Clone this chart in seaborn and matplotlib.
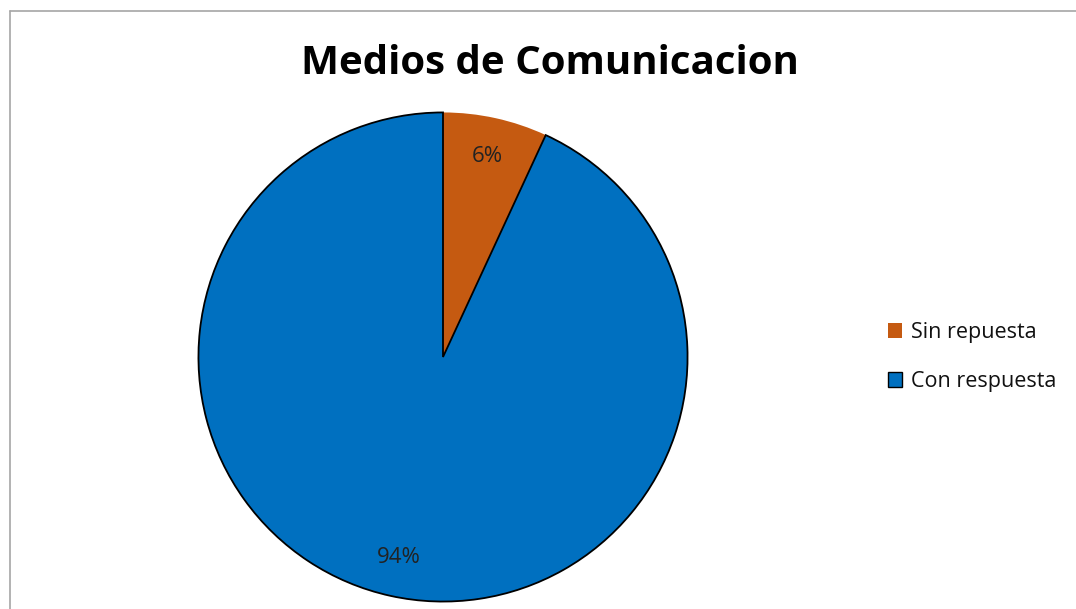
import numpy as np
import matplotlib
matplotlib.use("Agg")
import matplotlib.pyplot as plt
import matplotlib.patches as mpatches
from matplotlib.lines import Line2D
import seaborn as sns

# datos del grafico
categorias = ["Sin repuesta", "Con respuesta"]
valores = [6.9, 93.1]
etiquetas = ["6%", "94%"]
colores = ["#C55A11", "#0070C0"]

sns.set_theme(style="white")
plt.rcParams['font.family'] = ['Open Sans', 'DejaVu Sans']

fig = plt.figure(figsize=(10.76, 6.09), dpi=100)
ax = fig.add_axes([196 / 1076, 5 / 609, 494 / 1076, 494 / 609])

it = iter(etiquetas)
wedges, texts, autotexts = ax.pie(valores, colors=colores, startangle=90, counterclock=False,
                                  autopct=lambda p: next(it), pctdistance=0.84,
                                  textprops={'fontsize': 16, 'color': '#222222'})
wedges[0].set_edgecolor('none')
wedges[1].set_edgecolor('black')
wedges[1].set_linewidth(1.3)
ax.set_xlim(-1.01, 1.01)
ax.set_ylim(-1.01, 1.01)
ax.set_aspect('equal')
ax.axis('off')

# titulo
fig.text(550 / 1076, 1 - 64 / 609, "Medios de Comunicacion", ha='center', va='center',
         fontsize=29, fontweight='bold', color='black')

# leyenda
handles = [mpatches.Patch(facecolor=colores[0], edgecolor='none', label=categorias[0]),
           mpatches.Patch(facecolor=colores[1], edgecolor='black', label=categorias[1])]
fig.legend(handles=handles, loc='center left', bbox_to_anchor=(869 / 1076, 1 - 357 / 609),
           frameon=False, fontsize=15.5, handlelength=0.65, handleheight=0.65,
           handletextpad=0.4, labelspacing=1.3, labelcolor='#111111')

# marco del grafico (solo izquierda y arriba visibles)
borde = dict(color='#A6A6A6', linewidth=1.2, transform=fig.transFigure)
fig.add_artist(Line2D([10 / 1076, 10 / 1076], [0, 1 - 11 / 609], **borde))
fig.add_artist(Line2D([10 / 1076, 1.01], [1 - 11 / 609, 1 - 11 / 609], **borde))

fig.savefig("out.png", dpi=100)
